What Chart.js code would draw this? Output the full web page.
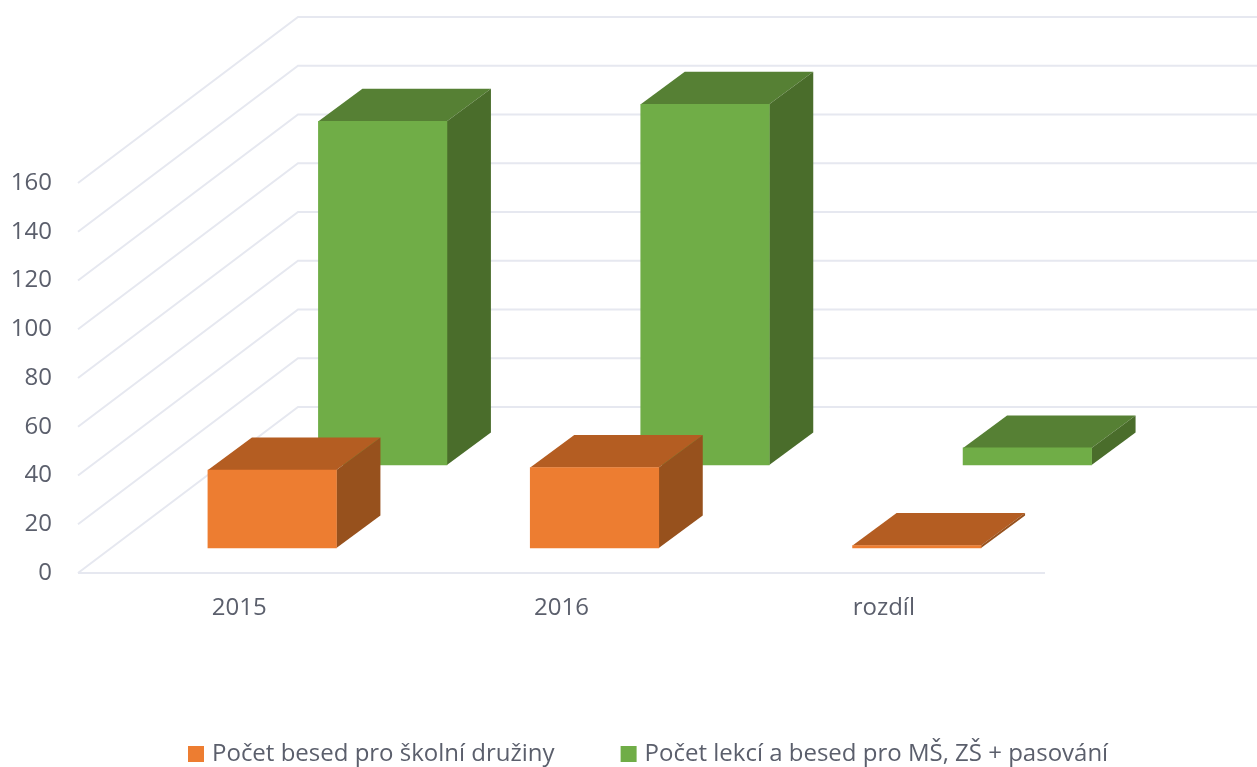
<!DOCTYPE html>
<html>
<head>
<meta charset="utf-8">
<style>
html,body{margin:0;padding:0;background:#fff;overflow:hidden}
#wrap{position:relative;width:1257px;height:767px}
canvas{display:block;filter:blur(0.5px)}
</style>
<script src="https://cdn.jsdelivr.net/npm/chart.js@4"></script>
</head>
<body>
<div id="wrap"><canvas id="c" width="1257" height="767"></canvas></div>
<script>
const categories = ['2015', '2016', 'rozdíl'];
const seriesNames = ['Počet besed pro školní družiny', 'Počet lekcí a besed pro MŠ, ZŠ + pasování'];
const besedyValues = [32, 33, 1];
const lekceValues = [141, 148, 7];
const yTicks = [0, 20, 40, 60, 80, 100, 120, 140, 160];

const TEXT = '#5b5f6c', GRID = '#e6e8f0';
// 3D projection constants (pixels): placement of each series in the depth of the floor
const WALL = {dx: 220, dy: 166};
const PLACE = [{dx: 33, dy: 25, depthX: 44, depthY: 32.5, top: '#b45d22', side: '#97511d'},
               {dx: 143.5, dy: 108, depthX: 44, depthY: 32.5, top: '#568034', side: '#4a6d2b'}];

const projection = {
  id: 'projection',
  afterLayout(chart) {
    const l = chart.legend;
    if (l) {
      const lineW = l.lineWidths[0];
      l.left = 157 - (l.width - lineW) / 2;
      l.right = l.left + l.width;
      l.top = 672;
      l.bottom = l.top + l.height;
    }
  },
  beforeDatasetsDraw(chart) {
    const {ctx, chartArea: a, scales: {y}} = chart;
    ctx.save();
    ctx.strokeStyle = GRID;
    ctx.lineWidth = 2;
    yTicks.forEach(t => {
      const py = y.getPixelForValue(t);
      ctx.beginPath();
      ctx.moveTo(a.left, py);
      ctx.lineTo(a.left + WALL.dx, py - WALL.dy);
      ctx.lineTo(chart.width, py - WALL.dy);
      ctx.stroke();
    });
    ctx.beginPath();
    ctx.moveTo(a.left, y.getPixelForValue(0));
    ctx.lineTo(a.right, y.getPixelForValue(0));
    ctx.stroke();
    ctx.restore();
  },
  beforeDatasetDraw(chart, args) {
    const {ctx} = chart;
    const p = PLACE[args.index];
    ctx.save();
    ctx.translate(p.dx, -p.dy);
    args.meta.data.forEach(b => {
      const {x, y, base, width} = b.getProps(['x', 'y', 'base', 'width'], true);
      const l = x - width / 2, r = x + width / 2;
      ctx.fillStyle = p.top;
      ctx.beginPath();
      ctx.moveTo(l, y);
      ctx.lineTo(l + p.depthX, y - p.depthY);
      ctx.lineTo(r + p.depthX, y - p.depthY);
      ctx.lineTo(r, y);
      ctx.closePath();
      ctx.fill();
      ctx.fillStyle = p.side;
      ctx.beginPath();
      ctx.moveTo(r, y);
      ctx.lineTo(r + p.depthX, y - p.depthY);
      ctx.lineTo(r + p.depthX, base - p.depthY);
      ctx.lineTo(r, base);
      ctx.closePath();
      ctx.fill();
    });
  },
  afterDatasetDraw(chart) {
    chart.ctx.restore();
  }
};

new Chart(document.getElementById('c'), {
  type: 'bar',
  plugins: [projection],
  data: {
    labels: categories,
    datasets: [
      {label: seriesNames[0], data: besedyValues, backgroundColor: '#ed7d31', order: 1, clip: false, barThickness: 128.5},
      {label: seriesNames[1], data: lekceValues, backgroundColor: '#70ad47', order: 2, clip: false, barThickness: 128.5}
    ]
  },
  options: {
    responsive: false,
    animation: false,
    layout: {padding: {top: 183, right: 0, left: 0, bottom: 0}},
    plugins: {
      tooltip: {enabled: false},
      legend: {
        position: 'bottom',
        labels: {
          boxWidth: 8, boxHeight: 8, padding: 70,
          color: TEXT,
          font: {family: '"Open Sans"', size: 24},
          generateLabels(chart) {
            return Chart.defaults.plugins.legend.labels.generateLabels(chart)
              .map(i => ({...i, lineWidth: 8, strokeStyle: i.fillStyle}));
          }
        }
      }
    },
    scales: {
      x: {
        stacked: true,
        grid: {display: false},
        border: {display: false},
        ticks: {color: TEXT, font: {family: '"Open Sans"', size: 24}, padding: 13, maxRotation: 0},
        afterFit(s) { s.height = 194 - s.chart.legend.height; }
      },
      y: {
        min: 0, max: 160,
        grid: {display: false},
        border: {display: false},
        ticks: {stepSize: 20, color: TEXT, font: {family: '"Open Sans"', size: 24}, padding: 18},
        afterFit(s) { s.width = 78; }
      },
      wallSpace: {
        position: 'right',
        grid: {display: false},
        border: {display: false},
        ticks: {display: false},
        afterFit(s) { s.width = 212; }
      }
    }
  }
});
</script>
</body>
</html>
